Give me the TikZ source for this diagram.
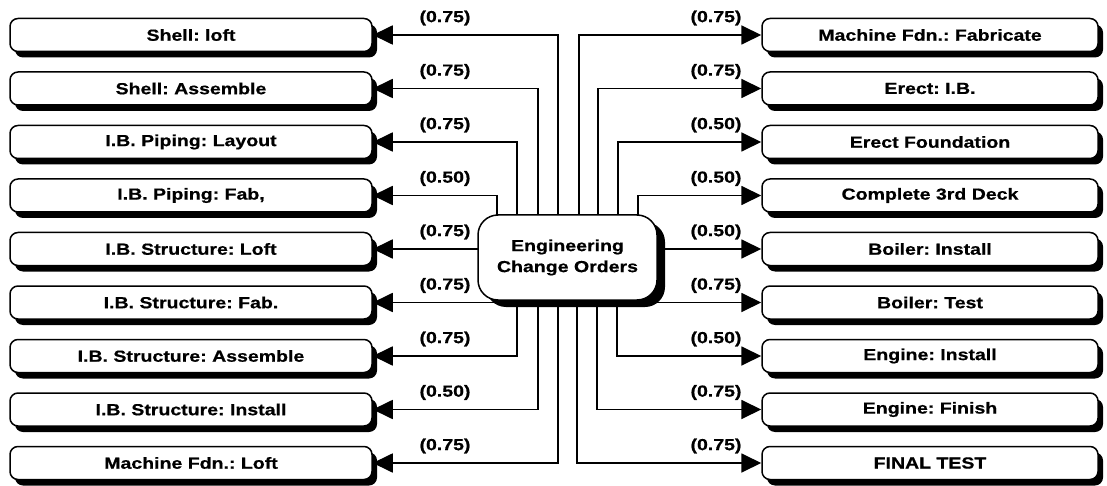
\documentclass[tikz,border=0pt]{standalone}
\usepackage{fontspec}
\newfontfamily\labfont{Liberation Sans}[FakeStretch=1.22,FakeBold=0.6]
\usetikzlibrary{arrows.meta,shadows,backgrounds}
\frenchspacing
\begin{document}
\begin{tikzpicture}[x=1pt,y=-1pt,
  txt/.style={font=\labfont\bfseries\fontsize{16}{21}\selectfont},
  task/.style={txt, draw=black, line width=1.5pt, fill=white, rounded corners=8pt,
    minimum height=33pt, inner sep=0pt,
    drop shadow={shadow xshift=5pt, shadow yshift=-6pt, fill=black, opacity=1}},
  ltask/.style={task, minimum width=362pt},
  rtask/.style={task, minimum width=336pt},
  hubbox/.style={txt, draw=black, line width=1.5pt, fill=white, rounded corners=20pt,
    minimum width=179pt, minimum height=85pt, align=center, inner sep=0pt,
    drop shadow={shadow xshift=8pt, shadow yshift=-7pt, fill=black, opacity=1}},
  wt/.style={txt, inner sep=0pt},
  arr/.style={line width=1.8pt, -{Triangle[length=20pt,width=19pt]}}
]
\useasboundingbox (0,0) rectangle (1107,486);

% left tasks
\node[ltask] (L1) at (191,35)    {Shell: loft};
\node[ltask] (L2) at (191,88.5)  {Shell: Assemble};
\node[ltask] (L3) at (191,142)   {I.B. Piping: Layout};
\node[ltask] (L4) at (191,195.5) {I.B. Piping: Fab,};
\node[ltask] (L5) at (191,249)   {I.B. Structure: Loft};
\node[ltask] (L6) at (191,302.5) {I.B. Structure: Fab.};
\node[ltask] (L7) at (191,356)   {I.B. Structure: Assemble};
\node[ltask] (L8) at (191,409.5) {I.B. Structure: Install};
\node[ltask] (L9) at (191,463)   {Machine Fdn.: Loft};

% right tasks
\node[rtask] (R1) at (930,35)    {Machine Fdn.: Fabricate};
\node[rtask] (R2) at (930,88.5)  {Erect: I.B.};
\node[rtask] (R3) at (930,142)   {Erect Foundation};
\node[rtask] (R4) at (930,195.5) {Complete 3rd Deck};
\node[rtask] (R5) at (930,249)   {Boiler: Install};
\node[rtask] (R6) at (930,302.5) {Boiler: Test};
\node[rtask] (R7) at (930,356)   {Engine: Install};
\node[rtask] (R8) at (930,409.5) {Engine: Finish};
\node[rtask] (R9) at (930,463)   {FINAL TEST};

% hub
\node[hubbox] (hub) at (567.5,257.5) {Engineering\\Change Orders};

% weights
\foreach \n/\w/\y in {1/0.75/35,2/0.75/88.5,3/0.75/142,4/0.50/195.5,5/0.75/249,6/0.75/302.5,7/0.75/356,8/0.50/409.5,9/0.75/463}
  \node[wt] (lw\n) at (445,\y-17) {(\w)};
\foreach \n/\w/\y in {1/0.75/35,2/0.75/88.5,3/0.50/142,4/0.50/195.5,5/0.50/249,6/0.75/302.5,7/0.50/356,8/0.75/409.5,9/0.75/463}
  \node[wt] (rw\n) at (716,\y-17) {(\w)};

% connectors
\begin{scope}[on background layer]
  \fill[white] (0,0) rectangle (1107,486);
  \foreach \n/\x in {1/558,2/538,3/517,4/497,7/517,8/538,9/558}
    \draw[arr] (\x,0 |- hub.center) |- (L\n.east);
  \foreach \n in {5,6}
    \draw[arr] (hub.center |- L\n.east) -- (L\n.east);
  \foreach \n/\x in {1/579,2/598,3/618,4/638,7/617,8/597,9/577}
    \draw[arr] (\x,0 |- hub.center) |- (R\n.west);
  \foreach \n in {5,6}
    \draw[arr] (hub.center |- R\n.west) -- (R\n.west);
\end{scope}
\end{tikzpicture}
\end{document}
